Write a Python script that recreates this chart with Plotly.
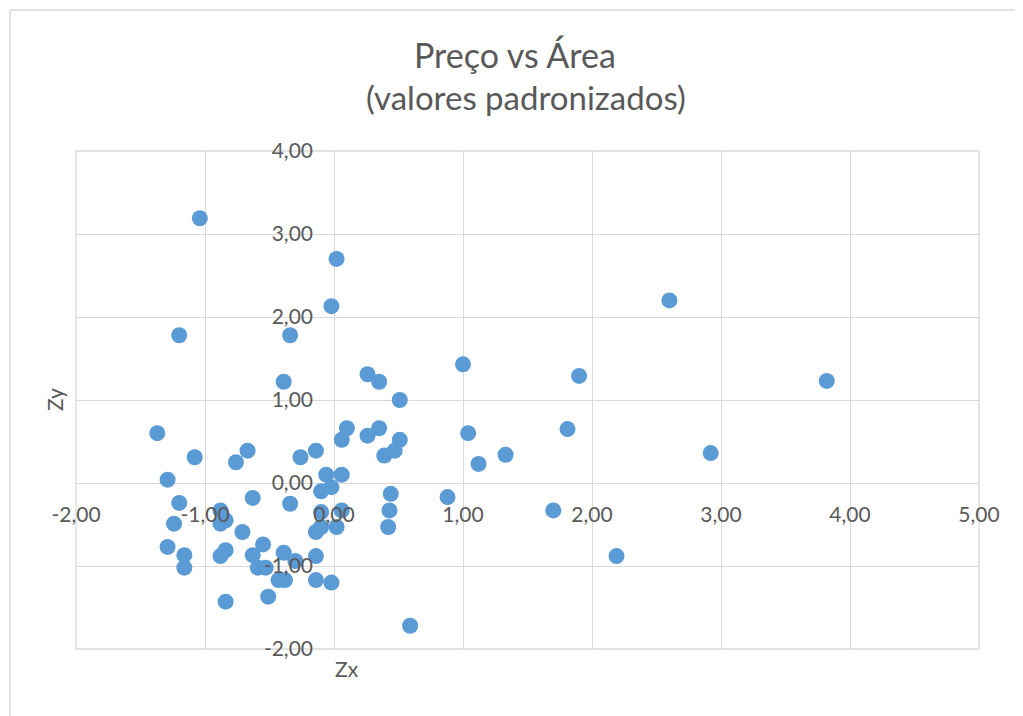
import plotly.graph_objects as go

zx = [-1.04, 0.02, -0.02, -1.20, -0.34, 2.60, 1.00, 1.90, 3.82, -0.39,
      0.26, 0.35, 0.51, 0.10, 0.06, 0.26, 0.35, 0.51, 0.47, 0.39,
      1.04, 1.81, 1.12, 1.33, 2.92, -1.37, -1.08, -1.29, -0.67, -0.76,
      -0.26, -0.14, -0.06, 0.06, -0.02, -0.10, 0.44, 0.88, 1.70, 2.19,
      -0.63, -0.34, -1.20, -0.88, -0.88, -0.84, -1.24, -0.10, 0.06, 0.43,
      -0.14, -0.10, 0.02, 0.42, -0.71, -1.29, -0.55, -1.16, -0.84, -0.88,
      -0.63, -0.39, -0.14, -1.16, -0.59, -0.53, -0.30, -0.43, -0.38, -0.14,
      -0.02, -0.51, -0.84, 0.59]
zy = [3.19, 2.70, 2.13, 1.78, 1.78, 2.20, 1.43, 1.29, 1.23, 1.22,
      1.31, 1.22, 1.00, 0.66, 0.52, 0.57, 0.66, 0.52, 0.39, 0.33,
      0.60, 0.65, 0.23, 0.34, 0.36, 0.60, 0.31, 0.04, 0.39, 0.25,
      0.31, 0.39, 0.10, 0.10, -0.05, -0.10, -0.13, -0.17, -0.33, -0.88,
      -0.18, -0.25, -0.24, -0.33, -0.49, -0.45, -0.49, -0.35, -0.33, -0.33,
      -0.59, -0.53, -0.53, -0.53, -0.59, -0.77, -0.74, -0.87, -0.81, -0.88,
      -0.87, -0.84, -0.88, -1.02, -1.02, -1.02, -0.94, -1.17, -1.17, -1.17,
      -1.20, -1.37, -1.43, -1.72]

x_ticks = [-2, -1, 0, 1, 2, 3, 4, 5]
x_tick_labels = ["-2,00", "-1,00", "0,00", "1,00", "2,00", "3,00", "4,00", "5,00"]
y_ticks = [-2, -1, 0, 1, 2, 3, 4]
y_tick_labels = ["-2,00", "-1,00", "0,00", "1,00", "2,00", "3,00", "4,00"]

FONT = "Lato"
GRAY = "#595959"
GRID = "#d9d9d9"

# page body has an 8px margin; figure is sized/offset so the plot area lands where the reference has it
OFF = 8
W, H = 1023 - OFF, 716 - OFF
ML, MR, MT, MB = 76 - OFF, 44, 151 - OFF, 67
PW, PH = W - ML - MR, H - MT - MB


def px_x(p):
    return (p - 76) / PW


def px_y(p):
    return (649 - p) / PH


fig = go.Figure()
fig.add_trace(go.Scatter(
    x=zx, y=zy, mode="markers",
    marker=dict(color="#5B9BD5", size=16, line=dict(width=0)),
    hoverinfo="x+y", showlegend=False,
))

fig.update_layout(
    width=W, height=H,
    margin=dict(l=ML, r=MR, t=MT, b=MB),
    paper_bgcolor="white", plot_bgcolor="white",
    font=dict(family=FONT, color=GRAY, size=21),
    xaxis=dict(
        range=[-2, 5], tickvals=x_ticks, ticktext=x_tick_labels,
        showgrid=True, gridcolor=GRID, gridwidth=1.3,
        zeroline=False, showline=False, ticks="",
        anchor="free", position=1/3, ticklabelstandoff=17,
        tickfont=dict(family=FONT, size=21, color=GRAY),
    ),
    yaxis=dict(
        range=[-2, 4], tickvals=y_ticks, ticktext=y_tick_labels,
        showgrid=True, gridcolor=GRID, gridwidth=1.3,
        zeroline=False, showline=False, ticks="",
        anchor="free", position=2/7, ticklabelstandoff=21,
        tickfont=dict(family=FONT, size=21, color=GRAY),
    ),
    shapes=[
        dict(type="rect", xref="paper", yref="paper",
             x0=0, x1=1, y0=0, y1=1, line=dict(color=GRID, width=1.3),
             fillcolor="rgba(0,0,0,0)", layer="below"),
        dict(type="line", xref="paper", yref="paper",
             x0=px_x(10), x1=px_x(1030), y0=px_y(10), y1=px_y(10),
             line=dict(color=GRID, width=1.5)),
        dict(type="line", xref="paper", yref="paper",
             x0=px_x(10), x1=px_x(10), y0=px_y(10), y1=px_y(730),
             line=dict(color=GRID, width=1.5)),
    ],
    annotations=[
        dict(text="Preço vs Área", xref="paper", yref="paper",
             x=px_x(515), y=px_y(54), xanchor="center", yanchor="middle",
             showarrow=False, font=dict(family=FONT, size=34, color=GRAY)),
        dict(text="(valores padronizados)", xref="paper", yref="paper",
             x=px_x(526), y=px_y(97), xanchor="center", yanchor="middle",
             showarrow=False, font=dict(family=FONT, size=33, color=GRAY)),
        dict(text="Zx", xref="paper", yref="paper",
             x=px_x(347), y=px_y(668), xanchor="center", yanchor="middle",
             showarrow=False, font=dict(family=FONT, size=21, color=GRAY)),
        dict(text="Zy", xref="paper", yref="paper",
             x=px_x(54), y=px_y(400), xanchor="center", yanchor="middle",
             textangle=-90, showarrow=False, font=dict(family=FONT, size=21, color=GRAY)),
    ],
)

fig.write_html("out.html")
